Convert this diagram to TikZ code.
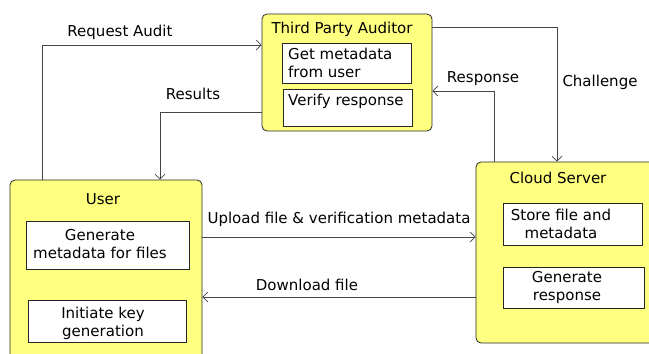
\documentclass[tikz,border=0pt]{standalone}
\usepackage{fontspec}
\setmainfont{DejaVu Sans}
\usetikzlibrary{arrows.meta,positioning,calc}
\definecolor{boxyellow}{RGB}{255,255,128}
\definecolor{linegray}{RGB}{70,70,70}
\begin{document}
\begin{tikzpicture}[x=1pt,y=-1pt,
  font=\fontsize{15}{18}\selectfont,
  outer/.style={draw=black!85,fill=boxyellow,rounded corners=5pt,line width=0.8pt,inner sep=0pt},
  inner/.style={draw=black!85,fill=white,line width=0.8pt,inner sep=0pt},
  conn/.style={draw=linegray,line width=0.8pt},
  arr/.style={conn,-{Straight Barb[length=5pt,width=10pt,line width=0.7pt]}},
  lbl/.style={inner sep=0pt,text=black},
  txt/.style={inner sep=0pt,align=center,text=black}
]
\useasboundingbox (0,0) rectangle (649,354);
% boxes
\node[outer,minimum width=170pt,minimum height=117pt] (tpa) at (347,72.5) {};
\node[txt] (tpat) at (342,29) {Third Party Auditor};
\node[inner,minimum width=129pt,minimum height=40pt] (get) at (346.5,63) {};
\node[txt,align=left,anchor=west] (gett) at (288,63) {Get metadata\\from user};
\node[inner,minimum width=129pt,minimum height=37pt] (ver) at (347.5,107.5) {};
\node[txt,anchor=west] (vert) at (288,101) {Verify response};

\node[outer,minimum width=192pt,minimum height=190pt] (user) at (106,275) {};
\node[txt] (usert) at (103,199) {User};
\node[inner,minimum width=163pt,minimum height=48pt] (gen) at (107.5,245) {};
\node[txt] (gent) at (100,244) {Generate\\metadata for files};
\node[inner,minimum width=158pt,minimum height=42pt] (ini) at (107,321) {};
\node[txt] (init) at (103,323) {Initiate key\\generation};

\node[outer,minimum width=184pt,minimum height=181pt] (cloud) at (568,252.5) {};
\node[txt] (cloudt) at (558,178) {Cloud Server};
\node[inner,minimum width=139pt,minimum height=42pt] (store) at (572.5,224) {};
\node[txt] (storet) at (561,224) {Store file and\\metadata};
\node[inner,minimum width=141pt,minimum height=41pt] (gresp) at (573.5,287.5) {};
\node[txt] (grespt) at (567,287.5) {Generate\\response};

% coordinates for bends
\coordinate (ra) at (42,45);
\coordinate (rs) at (160,112);
\coordinate (ch) at (557,27);
\coordinate (rp) at (494,91);

% connectors
\draw[arr] (user.north -| ra) |- (tpa.west |- ra);
\draw[arr] (tpa.west |- rs) -| (user.north -| rs);
\draw[arr] (tpa.east |- ch) -| (cloud.north -| ch);
\draw[arr] (cloud.north -| rp) |- (tpa.east |- rp);
\draw[arr] (user.east |- 0,237) -- (cloud.west |- 0,237);
\draw[arr] (cloud.west |- 0,297) -- (user.east |- 0,297);

% labels
\node[lbl] (l1) at (120,32) {Request Audit};
\node[lbl] (l2) at (193,94) {Results};
\node[lbl] (l3) at (483,79) {Response};
\node[lbl] (l4) at (600,82) {Challenge};
\node[lbl] (l5) at (339,219) {Upload file \& verification metadata};
\node[lbl] (l6) at (307,285) {Download file};
\end{tikzpicture}
\end{document}
